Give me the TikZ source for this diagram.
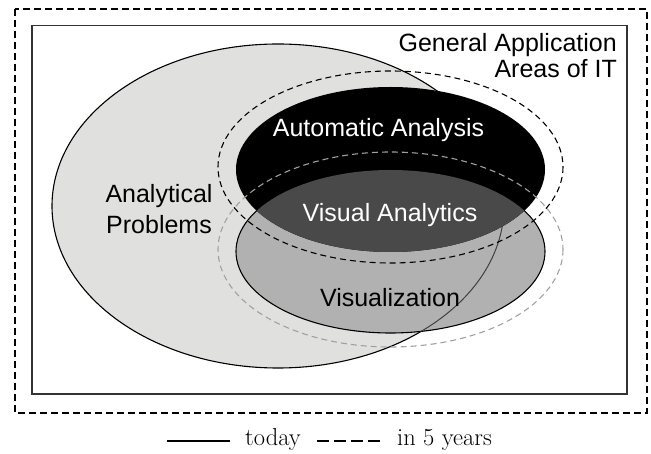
\documentclass[tikz,border=0pt]{standalone}
\usepackage{fontspec}
\newfontfamily\helv{Liberation Sans}
\definecolor{lightfill}{HTML}{E0E1DF}
\definecolor{midfill}{HTML}{B1B1B2}
\definecolor{darkfill}{HTML}{494949}
\definecolor{dashgray}{HTML}{A0A0A0}
\definecolor{framegray}{HTML}{333333}
\begin{document}
\begin{tikzpicture}[x=1pt,y=-1pt,
  outerframe/.style={draw=black,line width=1.3pt,dash pattern=on 7pt off 4pt},
  innerframe/.style={draw=framegray,line width=1.5pt},
  shapeline/.style={draw=black,line width=1.1pt},
  futureline/.style={line width=1.1pt,dash pattern=on 6pt off 4pt},
  lbl/.style={font=\helv\fontsize{25}{29}\selectfont,inner sep=0pt,anchor=base},
  legendtext/.style={font=\fontsize{24.5}{28}\selectfont,inner sep=0pt,anchor=base west},
  legendline/.style={line width=2pt,draw=black}]
\useasboundingbox (0,0) rectangle (651,454);

% frames
\draw[outerframe] (15,9) rectangle (647,413);
\draw[innerframe] (32,25.5) rectangle (627,394);

% analytical problems
\path[fill=lightfill,shapeline] (278,206) ellipse [x radius=226,y radius=162];
% visualization
\path[fill=midfill,shapeline] (390.5,251.5) ellipse [x radius=154.5,y radius=81.5];
\begin{scope}
  \clip (390.5,251.5) ellipse [x radius=154.5,y radius=81.5];
  \draw[black!75,line width=1pt] (278,206) ellipse [x radius=226,y radius=162];
\end{scope}
% automatic analysis
\fill[black] (390.5,169.5) ellipse [x radius=154.5,y radius=82.5];
% visual analytics (overlap)
\begin{scope}
  \clip (390.5,169.5) ellipse [x radius=154.5,y radius=82.5];
  \fill[darkfill] (390.5,251.5) ellipse [x radius=154.5,y radius=81.5];
\end{scope}

% in 5 years
\draw[futureline,dashgray] (390.5,249.5) ellipse [x radius=172.5,y radius=97.5];
\draw[futureline,black] (390.5,167) ellipse [x radius=172.5,y radius=96];

% labels
\node[lbl,text=white] (auto) at (378.5,137) {Automatic Analysis};
\node[lbl,text=white] (va) at (390,222) {Visual Analytics};
\node[lbl] (vis) at (390,307) {Visualization};
\node[lbl,align=center,font=\helv\fontsize{25}{31}\selectfont] (ap) at (159,234) {Analytical\\Problems};
\node[lbl,anchor=base east,align=right,font=\helv\fontsize{25}{26.5}\selectfont] (gen) at (617,78) {General Application\\Areas of IT};

% legend
\coordinate (s1) at (167,441);
\coordinate (s2) at (230,441);
\coordinate (d1) at (317,441);
\coordinate (d2) at (380,441);
\draw[legendline] (s1) -- (s2);
\draw[legendline,dash pattern=on 12pt off 5pt] (d1) -- (d2);
\node[legendtext] (today) at (245,446) {today};
\node[legendtext] (five) at (397,446) {in 5 years};
\end{tikzpicture}
\end{document}
